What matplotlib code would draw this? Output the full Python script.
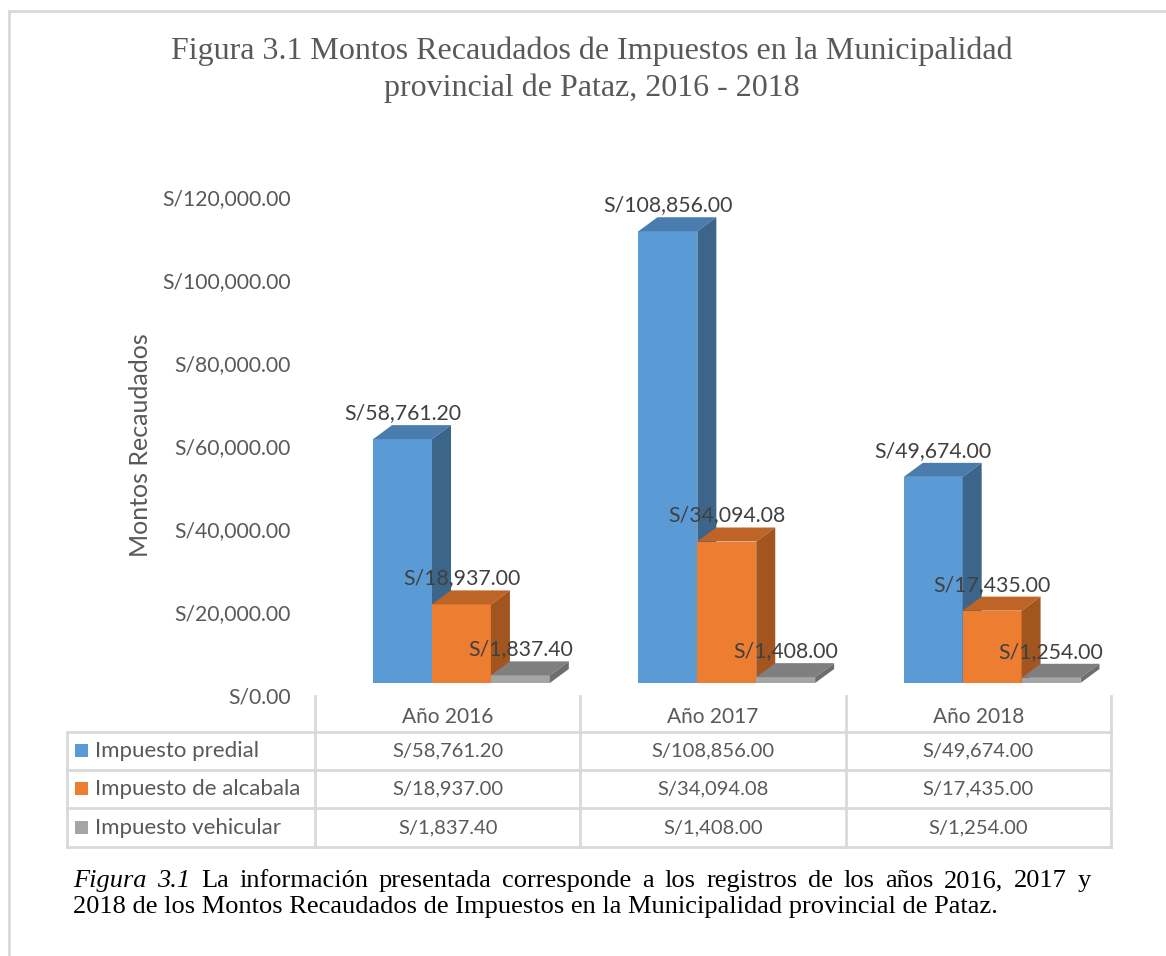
import matplotlib
matplotlib.use("Agg")
import matplotlib.pyplot as plt
from matplotlib.patches import Polygon, Rectangle
from matplotlib.lines import Line2D

# ---------------- data ----------------
categories = ["Año 2016", "Año 2017", "Año 2018"]
series_names = ["Impuesto predial", "Impuesto de alcabala", "Impuesto vehicular"]
predial = [58761.20, 108856.00, 49674.00]
alcabala = [18937.00, 34094.08, 17435.00]
vehicular = [1837.40, 1408.00, 1254.00]
series_values = [predial, alcabala, vehicular]
yticks = [0, 20000, 40000, 60000, 80000, 100000, 120000]

title = "Figura 3.1 Montos Recaudados de Impuestos en la Municipalidad\nprovincial de Pataz, 2016 - 2018"
ylabel = "Montos Recaudados"
caption_line1 = "La información presentada corresponde a los registros de los años 2016, 2017 y"
caption_line2 = "2018 de los Montos Recaudados de Impuestos en la Municipalidad provincial de Pataz."

# ---------------- style ----------------
front_colors = ["#5B9BD5", "#ED7D31", "#A5A5A5"]
top_colors = ["#4A7CAD", "#BE6427", "#7F7F7F"]
side_colors = ["#3C6589", "#A3551F", "#6E6E6E"]
txt = "#595959"
grid = "#D9D9D9"
sans = "Lato"
serif = "Liberation Serif"

W, H = 1166, 956
DPI = 100
fig = plt.figure(figsize=(W / DPI, H / DPI), dpi=DPI)

def fx(px):
    return px / W

def fy(py):
    return 1 - py / H

# outer frame (cut at right and bottom)
fig.add_artist(Line2D([fx(9), fx(9)], [fy(11), fy(H)], color=grid, lw=2))
fig.add_artist(Line2D([fx(9), fx(W)], [fy(11), fy(11)], color=grid, lw=2))

# title
fig.text(fx(592), fy(70), title, ha="center", va="center", fontsize=23,
         family=serif, color=txt, linespacing=1.32)

# axes: x 315..1111 px, y value 0 at 697 px, 120000 at 199 px
ax_l, ax_r, ax_b, ax_t = 315, 1111, 697, 199
ax = fig.add_axes([fx(ax_l), fy(ax_b), fx(ax_r - ax_l), (ax_b - ax_t) / H])
ax.set_xlim(-0.5, len(categories) - 0.5)
ax.set_ylim(0, 120000)
ax.axis("off")

xunit = (len(categories)) / (ax_r - ax_l)      # data per px
yunit = 120000 / (ax_b - ax_t)
base_shift_px = 14                               # front face floor above axis zero
depth_dx = 19 * xunit
depth_dy = 14 * yunit
base = base_shift_px * yunit
bar_w = 0.222
group_shift = 0.052

for s, vals in enumerate(series_values):
    for i, v in enumerate(vals):
        xc = i + group_shift + (s - 1) * bar_w
        x0, x1 = xc - bar_w / 2, xc + bar_w / 2
        y0, y1 = base, base + v
        ax.add_patch(Rectangle((x0, y0), bar_w, v, facecolor=front_colors[s],
                               edgecolor="none", zorder=3 + s))
        ax.add_patch(Polygon([(x0, y1), (x1, y1), (x1 + depth_dx, y1 + depth_dy),
                              (x0 + depth_dx, y1 + depth_dy)],
                             closed=True, facecolor=top_colors[s], edgecolor="none",
                             zorder=3 + s))
        ax.add_patch(Polygon([(x1, y0), (x1 + depth_dx, y0 + depth_dy),
                              (x1 + depth_dx, y1 + depth_dy), (x1, y1)],
                             closed=True, facecolor=side_colors[s], edgecolor="none",
                             zorder=3 + s))

for s, vals in enumerate(series_values):
    for i, v in enumerate(vals):
        xc = i + group_shift + (s - 1) * bar_w
        ax.text(xc, base + v + depth_dy + 2 * yunit, f"S/{v:,.2f}", ha="center",
                va="bottom", fontsize=15.3, family=sans, color="#404040", zorder=10)

# y tick labels
for t in yticks:
    fig.text(fx(291), fy(ax_b - (t / yunit)), f"S/{t:,.2f}", ha="right", va="center",
             fontsize=15.2, family=sans, color=txt)

fig.text(fx(141), fy(445), ylabel, rotation=90, ha="center", va="center",
         fontsize=18, family=sans, color=txt)

# ---------------- data table ----------------
col_edges = [ax_l + k * (ax_r - ax_l) / len(categories) for k in range(len(categories) + 1)]
row_edges = [732, 770, 808, 847]
tbl_left = 67
lw = 2
for xe in col_edges:
    fig.add_artist(Line2D([fx(xe), fx(xe)], [fy(696), fy(row_edges[-1])], color=grid, lw=lw))
fig.add_artist(Line2D([fx(tbl_left), fx(tbl_left)], [fy(row_edges[0]), fy(row_edges[-1])],
                      color=grid, lw=lw))
for ye in row_edges:
    fig.add_artist(Line2D([fx(tbl_left), fx(col_edges[-1])], [fy(ye), fy(ye)], color=grid, lw=lw))

for i, c in enumerate(categories):
    xc = (col_edges[i] + col_edges[i + 1]) / 2
    fig.text(fx(xc), fy(717), c, ha="center", va="center", fontsize=15,
             family=sans, color=txt)

for s, name in enumerate(series_names):
    yc = (row_edges[s] + row_edges[s + 1]) / 2
    fig.add_artist(Rectangle((fx(75), fy(yc + 6)), fx(13), 13 / H,
                             facecolor=front_colors[s], edgecolor="none"))
    fig.text(fx(95), fy(yc), name, ha="left", va="center", fontsize=16,
             family=sans, color=txt)
    for i, v in enumerate(series_values[s]):
        xc = (col_edges[i] + col_edges[i + 1]) / 2
        fig.text(fx(xc), fy(yc), f"S/{v:,.2f}", ha="center", va="center",
                 fontsize=14.5, family=sans, color=txt)

# ---------------- caption (first line justified) ----------------
cap_size = 19
renderer = fig.canvas.get_renderer()
left_px, right_px = 73, 1091
words = [("Figura", "italic"), ("3.1", "italic")] + [(w, "normal") for w in caption_line1.split()]
arts = []
for w, st in words:
    t = fig.text(0, 0, w, fontsize=cap_size, family=serif, style=st, color="black",
                 ha="left", va="baseline")
    arts.append(t)
widths = [a.get_window_extent(renderer).width for a in arts]
gap = (right_px - left_px - sum(widths)) / (len(words) - 1)
xpos = left_px
for a, wdt in zip(arts, widths):
    a.set_position((fx(xpos), fy(887)))
    xpos += wdt + gap
fig.text(fx(left_px), fy(913), caption_line2, fontsize=cap_size, family=serif,
         color="black", ha="left", va="baseline")

fig.savefig("out.png", dpi=DPI)
